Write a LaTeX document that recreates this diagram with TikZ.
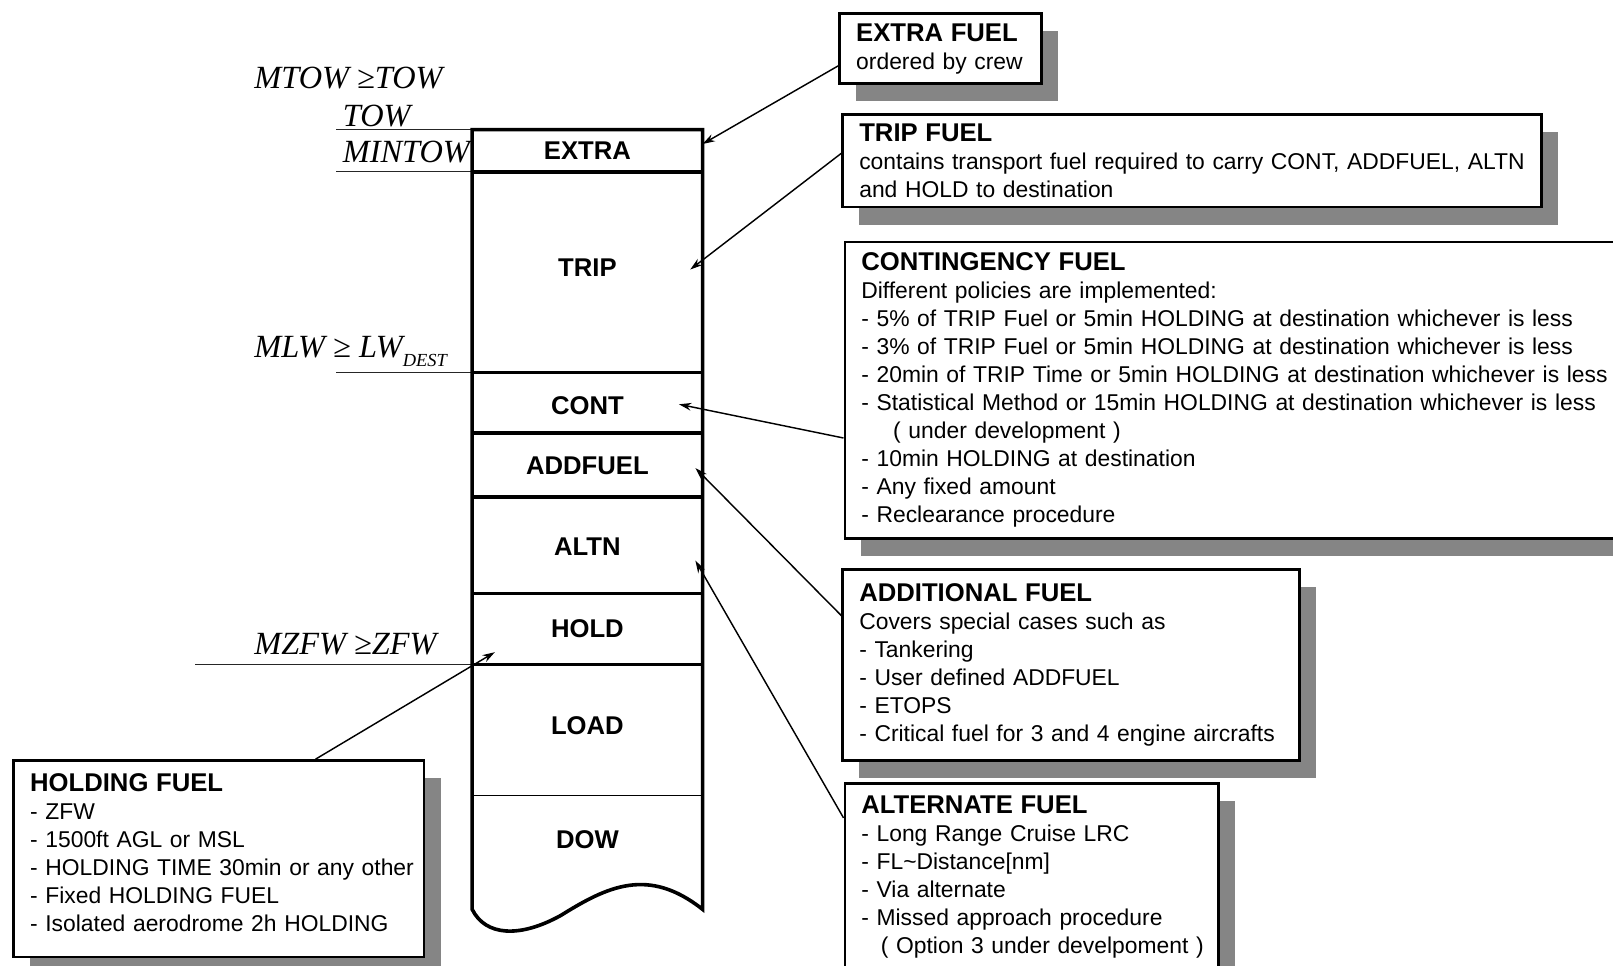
\documentclass[tikz,border=0pt]{standalone}
\usepackage{fontspec}
\setmainfont{Liberation Sans}
\newfontfamily\wtfont{Liberation Serif}
\usetikzlibrary{positioning, calc, arrows.meta, shadows}
\tikzset{
    fuelbox/.style={rectangle, draw=black, line width=1.5pt, fill=white, anchor=north west, align=left, inner xsep=0.32cm, inner ysep=0pt, font=\fontsize{12.65}{15.5}\selectfont, drop shadow={shadow xshift=0.32cm, shadow yshift=-0.34cm, fill=black!48, opacity=1}},
    cell/.style={font=\fontsize{14.2}{16}\selectfont\bfseries},
    weight/.style={anchor=base west, inner sep=0pt, font=\wtfont\itshape\fontsize{17.9}{20}\selectfont},
    pointer/.style={-{Stealth[length=0.24cm, width=0.15cm]}, line width=0.8pt},
    colline/.style={line width=2pt},
    wline/.style={line width=0.7pt, black!85},
}
\newcommand{\boxhead}[1]{{\fontsize{14.2}{15.5}\selectfont\bfseries #1}}

\begin{document}
\begin{tikzpicture}[x=0.02cm, y=-0.02cm]
    \useasboundingbox (0,0) rectangle (1568,939);
    \clip (0,0) rectangle (1568,939);

    % 1. Weight limits
    \draw[wline] (327,126) -- (459,126);
    \draw[wline] (327,167) -- (459,167);
    \draw[wline] (327,362) -- (459,362);
    \draw[wline] (190,646) -- (459,646);
    \node[weight] (mtow) at (247,86) {MTOW ≥TOW};
    \node[weight] (tow) at (333,123) {TOW};
    \node[weight] (mintow) at (333,158) {MINTOW};
    \node[weight] (mlw) at (247,348) {MLW ≥ LW\raisebox{-4.5pt}{\fontsize{10.2}{11}\selectfont DEST}};
    \node[weight] (mzfw) at (247,636) {MZFW ≥ZFW};

    % 2. Fuel column
    \draw[colline] (459,126) -- (459,884) .. controls (472,910) and (505,912) .. (545,890)
        .. controls (590,862) and (630,842) .. (683,884) -- (683,126) -- cycle;
    \foreach \yy in {167,362,421,483,577,646}
        \draw[colline] (459,\yy) -- (683,\yy);
    \draw[line width=0.7pt] (459,773) -- (683,773);

    \node[cell] (extra) at (571,146) {EXTRA};
    \node[cell] (trip) at (571,260) {TRIP};
    \node[cell] (cont) at (571,394) {CONT};
    \node[cell] (addfuel) at (571,453) {ADDFUEL};
    \node[cell] (altn) at (571,531) {ALTN};
    \node[cell] (hold) at (571,611) {HOLD};
    \node[cell] (load) at (571,705) {LOAD};
    \node[cell] (dow) at (571,816) {DOW};

    % 3. Explanation boxes
    \node[fuelbox, text width=3.28cm, minimum height=1.36cm] (extrabox) at (815,12)
        {\boxhead{EXTRA FUEL}\\\mbox{ordered by crew}};
    \node[fuelbox, text width=12.94cm, minimum height=1.8cm] (tripbox) at (818,110)
        {\boxhead{TRIP FUEL}\\\mbox{contains transport fuel required to carry CONT, ADDFUEL, ALTN}\\and HOLD to destination};
    \node[fuelbox, text width=15.2cm, minimum height=5.76cm] (contbox) at (820,234)
        {\boxhead{CONTINGENCY FUEL}\\Different policies are implemented:\\
         - 5\% of TRIP Fuel or 5min HOLDING at destination whichever is less\\
         - 3\% of TRIP Fuel or 5min HOLDING at destination whichever is less\\
         - 20min of TRIP Time or 5min HOLDING at destination whichever is less\\
         - Statistical Method or 15min HOLDING at destination whichever is less\\
         \hspace*{0.62cm}( under development )\\
         - 10min HOLDING at destination\\
         - Any fixed amount\\
         - Reclearance procedure};
    \node[fuelbox, text width=8.24cm, minimum height=3.72cm] (addbox) at (818,552)
        {\boxhead{ADDITIONAL FUEL}\\Covers special cases such as\\- Tankering\\- User defined ADDFUEL\\- ETOPS\\
         \mbox{- Critical fuel for 3 and 4 engine aircrafts}};
    \node[fuelbox, text width=6.62cm, minimum height=3.64cm] (altbox) at (820,760)
        {\boxhead{ALTERNATE FUEL}\\- Long Range Cruise LRC\\- FL\textasciitilde Distance[nm]\\- Via alternate\\
         - Missed approach procedure\\\mbox{\hspace*{0.38cm}( Option 3 under develpoment )}};
    \node[fuelbox, text width=7.34cm, minimum height=3.82cm] (holdbox) at (12,738)
        {\boxhead{HOLDING FUEL}\\- ZFW\\- 1500ft AGL or MSL\\\mbox{- HOLDING TIME 30min or any other}\\
         - Fixed HOLDING FUEL\\\mbox{- Isolated aerodrome 2h HOLDING}\\[-0.32cm]\rule{0pt}{0pt}};

    % 4. Pointers into the column
    \coordinate (extraTip) at (683,140);
    \coordinate (tripTip) at (671,262);
    \coordinate (contTip) at (660,393);
    \coordinate (addTip) at (676,455);
    \coordinate (altnTip) at (676,545);
    \coordinate (holdTip) at (481,634);
    \draw[pointer] ($(extrabox.north west)!0.735!(extrabox.south west)$) -- (extraTip);
    \draw[pointer] ($(tripbox.north west)!0.42!(tripbox.south west)$) -- (tripTip);
    \draw[pointer] ($(contbox.north west)!0.66!(contbox.south west)$) -- (contTip);
    \draw[pointer] ($(addbox.north west)!0.247!(addbox.south west)$) -- (addTip);
    \draw[pointer] ($(altbox.north west)!0.19!(altbox.south west)$) -- (altnTip);
    \draw[pointer] ($(holdbox.north west)!0.734!(holdbox.north east)$) -- (holdTip);
\end{tikzpicture}
\end{document}
